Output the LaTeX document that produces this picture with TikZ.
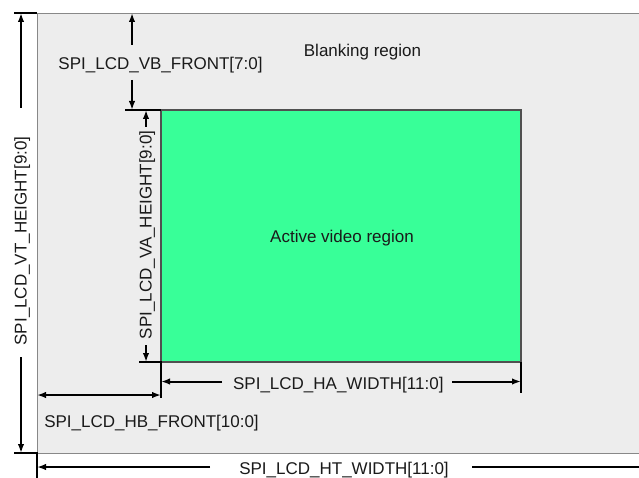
\documentclass[tikz,border=0pt]{standalone}
\usepackage{fontspec}
\setmainfont{Liberation Sans}
\usetikzlibrary{arrows.meta}
\definecolor{blankfill}{RGB}{237,237,237}
\definecolor{blankline}{RGB}{136,136,136}
\definecolor{activefill}{RGB}{56,255,152}
\definecolor{activeline}{RGB}{80,80,80}
\definecolor{txt}{RGB}{26,26,26}
\begin{document}
\begin{tikzpicture}[x=1pt,y=-1pt,
  dim/.style={line width=2pt,-{Latex[length=9pt,width=6.5pt]}},
  plainline/.style={line width=2pt},
  tick/.style={line width=2.5pt},
  lbl/.style={font=\fontsize{17}{20}\selectfont,text=txt,inner sep=0pt,anchor=base},
  region/.style={draw=blankline,fill=blankfill,line width=1.4pt,anchor=north west,inner sep=0pt},
  activebox/.style={draw=activeline,fill=activefill,line width=1.4pt,inner sep=0pt,
    minimum width=360pt,minimum height=252pt}]
\useasboundingbox (0,0) rectangle (639,478);
\clip (0,0) rectangle (639,478);
\fill[white] (0,0) rectangle (639,478);
% regions
\node[region,minimum width=620pt,minimum height=440pt] (blank) at (37,13) {};
\node[lbl] (blanklbl) at (362.5,56.5) {Blanking region};
\node[activebox] (active) at (341,236) {};
\node[lbl] (activelbl) at (342,243) {Active video region};
% coordinates
\coordinate (tl) at (37,13);
\coordinate (tlt) at (14,13);
\coordinate (bl) at (37,453);
\coordinate (blt) at (14,453);
\coordinate (bld) at (37,478);
\coordinate (at) at (161,110);
\coordinate (att) at (125,110);
\coordinate (ab) at (161,362);
\coordinate (abt) at (139,362);
\coordinate (abd) at (161,398);
\coordinate (ar) at (521,362);
\coordinate (ard) at (521,393);
% ticks
\draw[tick] (tlt) -- (tl);
\draw[tick] (blt) -- (bl) -- (bld);
\draw[tick] (att) -- (at);
\draw[tick] (abt) -- (ab) -- (abd);
\draw[tick] (ar) -- (ard);
% VT height
\node[lbl,rotate=90] (vt) at (26.7,241) {SPI\_LCD\_VT\_HEIGHT[9:0]};
\coordinate (vt1) at (21,108);
\coordinate (vt1e) at (21,13);
\coordinate (vt2) at (21,357);
\coordinate (vt2e) at (21,453);
\draw[dim] (vt1) -- (vt1e);
\draw[dim] (vt2) -- (vt2e);
% VB front
\node[lbl] (vb) at (160.5,70) {SPI\_LCD\_VB\_FRONT[7:0]};
\coordinate (vb1) at (132,45);
\coordinate (vb1e) at (132,13);
\coordinate (vb2) at (132,80);
\coordinate (vb2e) at (132,110);
\draw[dim] (vb1) -- (vb1e);
\draw[dim] (vb2) -- (vb2e);
% VA height
\node[lbl,rotate=90] (va) at (151.5,235) {SPI\_LCD\_VA\_HEIGHT[9:0]};
\coordinate (va1) at (146,127);
\coordinate (va1e) at (146,110);
\coordinate (va2) at (146,345);
\coordinate (va2e) at (146,362);
\draw[dim] (va1) -- (va1e);
\draw[dim] (va2) -- (va2e);
% HA width
\node[lbl] (ha) at (338.3,389) {SPI\_LCD\_HA\_WIDTH[11:0]};
\coordinate (ha1) at (222,381.5);
\coordinate (ha1e) at (161,381.5);
\coordinate (ha2) at (452,381.5);
\coordinate (ha2e) at (521,381.5);
\draw[dim] (ha1) -- (ha1e);
\draw[dim] (ha2) -- (ha2e);
% HB front
\node[lbl] (hb) at (151.5,427) {SPI\_LCD\_HB\_FRONT[10:0]};
\coordinate (hb1) at (37,395);
\coordinate (hb2) at (161,395);
\draw[dim,{Latex[length=9pt,width=6.5pt]}-{Latex[length=9pt,width=6.5pt]}] (hb1) -- (hb2);
% HT width
\node[lbl] (ht) at (344,474) {SPI\_LCD\_HT\_WIDTH[11:0]};
\coordinate (ht1) at (210,467);
\coordinate (ht1e) at (37,467);
\coordinate (ht2) at (472,467);
\coordinate (ht2e) at (645,467);
\draw[dim] (ht1) -- (ht1e);
\draw[plainline] (ht2) -- (ht2e);
\end{tikzpicture}
\end{document}
